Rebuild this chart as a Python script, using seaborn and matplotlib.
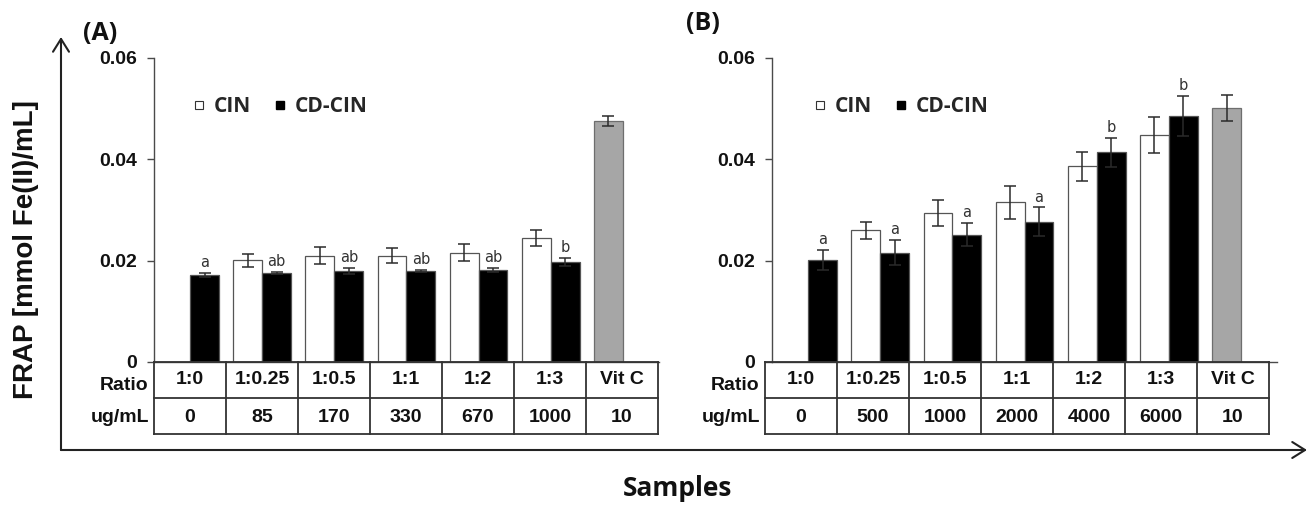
import numpy as np
import pandas as pd
import matplotlib
matplotlib.use("Agg")
import matplotlib.pyplot as plt
import seaborn as sns
from matplotlib.lines import Line2D
from matplotlib.patches import FancyArrowPatch

# ---------------- data ----------------
ratios = ["1:0", "1:0.25", "1:0.5", "1:1", "1:2", "1:3", "Vit C"]
conc_a = ["0", "85", "170", "330", "670", "1000", "10"]
conc_b = ["0", "500", "1000", "2000", "4000", "6000", "10"]

# Panel A (FRAP, mmol Fe(II)/mL)
cin_a = [np.nan, 0.0201, 0.0210, 0.0210, 0.0216, 0.0245]
cin_a_err = [np.nan, 0.0013, 0.0016, 0.0015, 0.0016, 0.0016]
cd_a = [0.0172, 0.0176, 0.0180, 0.0180, 0.0182, 0.0197]
cd_a_err = [0.0004, 0.0002, 0.0006, 0.0002, 0.0004, 0.0008]
sig_a = ["a", "ab", "ab", "ab", "ab", "b"]
vitc_a = 0.0475
vitc_a_err = 0.0010

# Panel B
cin_b = [np.nan, 0.0260, 0.0294, 0.0315, 0.0386, 0.0448]
cin_b_err = [np.nan, 0.0017, 0.0025, 0.0033, 0.0029, 0.0036]
cd_b = [0.0201, 0.0216, 0.0251, 0.0277, 0.0414, 0.0486]
cd_b_err = [0.0020, 0.0025, 0.0023, 0.0028, 0.0029, 0.0039]
sig_b = ["a", "a", "a", "a", "b", "b"]
vitc_b = 0.0501
vitc_b_err = 0.0025

series = ["CIN", "CD-CIN"]
yticks = [0, 0.02, 0.04, 0.06]
ytick_labels = ["0", "0.02", "0.04", "0.06"]

# ---------------- style ----------------
sns.set_theme(style="white")
plt.rcParams["font.family"] = ["Liberation Sans", "DejaVu Sans"]
TITLE_FONT = ["Open Sans", "DejaVu Sans"]
FS = 14

W, H = 1312, 505
fig = plt.figure(figsize=(W / 100, H / 100), dpi=100)


def fx(px):
    return px / W


def fy(py):
    return 1 - py / H


LINE = "#4a4a4a"


def build_df(cin, cd, vitc):
    rows = []
    for i, r in enumerate(ratios[:-1]):
        if not np.isnan(cin[i]):
            rows.append((r, "CIN", cin[i]))
        rows.append((r, "CD-CIN", cd[i]))
    rows.append((ratios[-1], "CIN", vitc))
    return pd.DataFrame(rows, columns=["ratio", "series", "frap"])


def panel(ax_left_px, table_left_px, cin, cin_err, cd, cd_err, sig, vitc, vitc_err,
          conc, tag, tag_xy, legend_left_px):
    ax = fig.add_axes([fx(ax_left_px), fy(362), fx(505), fy(58) - fy(362)])
    df = build_df(cin, cd, vitc)
    sns.barplot(data=df, x="ratio", y="frap", hue="series", order=ratios,
                hue_order=series, palette={"CIN": "white", "CD-CIN": "black"},
                saturation=1, errorbar=None, width=0.8, edgecolor="#555555",
                linewidth=0.9, legend=False, ax=ax)
    err_map = {"CIN": list(cin_err) + [vitc_err], "CD-CIN": list(cd_err) + [np.nan]}
    for cont, s in zip(ax.containers, series):
        for bar in cont:
            xc = bar.get_x() + bar.get_width() / 2
            h = bar.get_height()
            idx = int(round(xc))
            if idx == len(ratios) - 1:
                bar.set_facecolor("#a6a6a6")
                bar.set_edgecolor("#6e6e6e")
            e = err_map[s][idx]
            if np.isnan(e) or np.isnan(h):
                continue
            ax.errorbar(xc, h, yerr=e, fmt="none", ecolor="#2b2b2b",
                        elinewidth=1.1, capsize=4.5, capthick=1.1, zorder=5)
            if s == "CD-CIN" and idx < len(sig):
                ax.annotate(sig[idx], (xc, h + e), xytext=(0, 2),
                            textcoords="offset points", ha="center", va="bottom",
                            fontsize=10.5, color="#333333",
                            family=["DejaVu Sans"])
    ax.set_xlim(-0.5, 6.5)
    ax.set_ylim(0, 0.06)
    ax.set_yticks(yticks)
    ax.set_yticklabels(ytick_labels, fontsize=FS, fontweight="bold", color="#111111")
    ax.set_xticks([])
    ax.set_xlabel("")
    ax.set_ylabel("")
    ax.tick_params(axis="y", left=True, length=5, width=1, color=LINE, pad=7)
    for sp in ["top", "right"]:
        ax.spines[sp].set_visible(False)
    for sp in ["left", "bottom"]:
        ax.spines[sp].set_color(LINE)
        ax.spines[sp].set_linewidth(1.0)
    ax.set_facecolor("none")

    # legend
    handles = [
        Line2D([], [], marker="s", linestyle="none", markerfacecolor="white",
               markeredgecolor="#333333", markeredgewidth=0.8, markersize=5.5),
        Line2D([], [], marker="s", linestyle="none", markerfacecolor="black",
               markeredgecolor="black", markersize=5.5),
    ]
    ax.legend(handles, series, loc="center left",
              bbox_to_anchor=(fx(legend_left_px), fy(107)),
              bbox_transform=fig.transFigure, ncol=2, frameon=False,
              borderpad=0, borderaxespad=0, handlelength=0.8, handletextpad=0.3,
              columnspacing=1.0,
              prop={"family": TITLE_FONT, "weight": "bold", "size": 15})

    # table below the axis
    tax = fig.add_axes([fx(table_left_px), fy(434), fx(504), fy(362) - fy(434)])
    tax.set_xlim(0, 7)
    tax.set_ylim(0, 2)
    tax.axis("off")
    n = len(ratios)
    kw = dict(color="#333333", lw=1.3, solid_capstyle="projecting", clip_on=False)
    tax.plot([0, n], [0, 0], **kw)
    tax.plot([0, n], [1, 1], **kw)
    tax.plot([0, n], [2, 2], **kw)
    for i in range(n + 1):
        tax.plot([i, i], [0, 2], **kw)
    for i in range(n):
        tax.text(i + 0.5, 1.5, ratios[i], ha="center", va="center",
                 fontsize=FS, fontweight="bold", color="#111111")
        tax.text(i + 0.5, 0.45, conc[i], ha="center", va="center",
                 fontsize=FS, fontweight="bold", color="#111111")
    # row labels
    fig.text(fx(table_left_px - 6), fy(385), "Ratio", ha="right", va="center",
             fontsize=FS, fontweight="bold", color="#111111")
    fig.text(fx(table_left_px - 5), fy(418), "ug/mL", ha="right", va="center",
             fontsize=FS, fontweight="bold", color="#111111")
    # panel tag
    fig.text(fx(tag_xy[0]), fy(tag_xy[1]), tag, ha="center", va="center",
             fontsize=18, fontweight="bold", family=TITLE_FONT, color="#111111")
    return ax


panel(154, 154, cin_a, cin_a_err, cd_a, cd_a_err, sig_a, vitc_a, vitc_a_err,
      conc_a, "(A)", (100, 33), 191)
panel(772, 765, cin_b, cin_b_err, cd_b, cd_b_err, sig_b, vitc_b, vitc_b_err,
      conc_b, "(B)", (703, 23), 812)

# outer axis arrows
arrow_kw = dict(transform=fig.transFigure, arrowstyle="->, head_length=0.4, head_width=0.25",
                mutation_scale=23, color="#222222", lw=1.5, shrinkA=0, shrinkB=0)
fig.add_artist(FancyArrowPatch((fx(61), fy(450)), (fx(61), fy(37)), **arrow_kw))
fig.add_artist(FancyArrowPatch((fx(61), fy(450)), (fx(1307), fy(450)), **arrow_kw))

fig.text(fx(26), fy(250), "FRAP [mmol Fe(II)/mL]", rotation=90, ha="center",
         va="center", fontsize=20, fontweight="bold", color="#111111")
fig.text(fx(678), fy(489), "Samples", ha="center", va="center", fontsize=19,
         fontweight="bold", family=TITLE_FONT, color="#111111")

fig.savefig("out.png", dpi=100, facecolor="white")
